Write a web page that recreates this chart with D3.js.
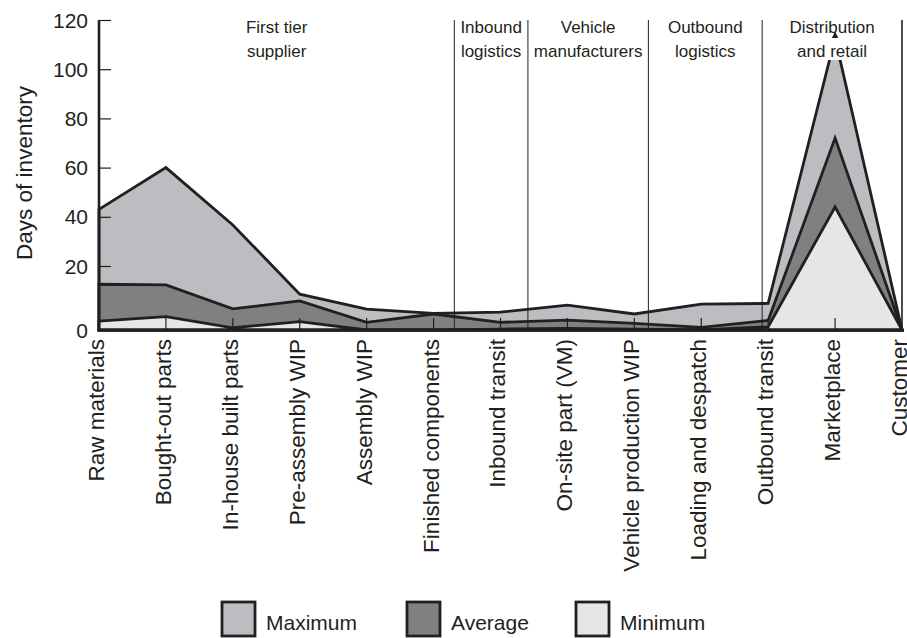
<!DOCTYPE html>
<html>
<head>
<meta charset="utf-8">
<script src="https://cdn.jsdelivr.net/npm/d3@7"></script>
<style>
  body { margin: 0; background: #fff; }
  svg text { font-family: "Liberation Sans", Arial, sans-serif; fill: #231f20; }
</style>
</head>
<body>
<svg id="chart" width="907" height="638"></svg>
<script>
// stages along the supply chain
var stages = ["Raw materials", "Bought-out parts", "In-house built parts", "Pre-assembly WIP",
  "Assembly WIP", "Finished components", "Inbound transit", "On-site part (VM)",
  "Vehicle production WIP", "Loading and despatch", "Outbound transit", "Marketplace", "Customer"];

// days of inventory
var maxDays = [43, 60, 36.7, 11.2, 6.5, 5.2, 5.6, 7.8, 5.0, 8.1, 8.3, 112.7, 0];
var avgDays = [14.3, 14.1, 6.6, 9.1, 2.4, 5.0, 2.4, 3.1, 2.1, 0.8, 3.0, 72, 0];
var minDays = [2.8, 4.2, 0.7, 2.6, 0, 0, 0.3, 0.5, 0.3, 0, 1.0, 44, 0];

var yTicks = [0, 20, 40, 60, 80, 100, 120];

// section boundaries, in stage index units
var sectionEdges = [0, 5.31, 6.41, 8.21, 9.91, 12];
var sectionNames = [["First tier", "supplier"], ["Inbound", "logistics"], ["Vehicle", "manufacturers"],
  ["Outbound", "logistics"], ["Distribution", "and retail"]];

var legendNames = ["Maximum", "Average", "Minimum"];
var fills = ["#bcbdc0", "#808082", "#e6e6e7"];
var ink = "#231f20";

var svg = d3.select("#chart");

var x = d3.scaleLinear().domain([0, stages.length - 1]).range([99, 902]);
// the printed axis gives 0-20 more room than the rest
var y = d3.scaleLinear().domain([0, 20, 120]).range([330, 266, 20]);

var series = [maxDays, avgDays, minDays];

var area = d3.area()
  .x(function(d, i) { return x(i); })
  .y0(y(0))
  .y1(function(d) { return y(d); });

series.forEach(function(s, k) {
  svg.append("path")
    .attr("d", area(s))
    .attr("fill", fills[k])
    .attr("stroke", ink)
    .attr("stroke-width", 2.8)
    .attr("stroke-linejoin", "miter")
    .attr("stroke-miterlimit", 20);
});

// label box hides the top of the peak, arrow shows it carries on
var peak = maxDays.indexOf(d3.max(maxDays));
svg.append("rect")
  .attr("x", x(peak) - 40).attr("y", 38)
  .attr("width", 80).attr("height", 22)
  .attr("fill", "#fff");
var ax = x(peak), ay = y(maxDays[peak]);
svg.append("path")
  .attr("d", "M" + (ax - 3.2) + "," + ay + "L" + ax + "," + (ay - 6.5) + "L" + (ax + 3.2) + "," + ay + "Z")
  .attr("fill", ink);

// section separators
svg.selectAll(".sep")
  .data(sectionEdges.slice(1))
  .enter().append("line")
  .attr("class", "sep")
  .attr("x1", function(d) { return x(d); })
  .attr("x2", function(d) { return x(d); })
  .attr("y1", y(120)).attr("y2", y(0))
  .attr("stroke", ink)
  .attr("stroke-width", function(d, i) { return i == 4 ? 1.6 : 1; });

sectionNames.forEach(function(lines, i) {
  var cx = x((sectionEdges[i] + sectionEdges[i + 1]) / 2);
  var t = svg.append("text")
    .attr("x", cx).attr("y", 33)
    .attr("text-anchor", "middle")
    .style("font-size", "17px");
  lines.forEach(function(l, j) {
    t.append("tspan").attr("x", cx).attr("dy", j == 0 ? 0 : 23.5).text(l);
  });
});

// x ticks point up from the baseline
svg.selectAll(".xt")
  .data(d3.range(1, stages.length - 1))
  .enter().append("line")
  .attr("x1", function(d) { return x(d); })
  .attr("x2", function(d) { return x(d); })
  .attr("y1", y(0)).attr("y2", y(0) - 12)
  .attr("stroke", ink)
  .attr("stroke-width", 1.2);

// y axis
var yAxis = svg.append("g")
  .attr("transform", "translate(" + x(0) + ",0)")
  .call(d3.axisRight(y).tickValues(yTicks).tickSize(12).tickFormat(""));
yAxis.select(".domain").remove();
yAxis.selectAll("line").attr("stroke", ink).attr("stroke-width", 1.2);
yAxis.selectAll(".tick").filter(function(d) { return d == 0; }).remove();

svg.selectAll(".yl")
  .data(yTicks)
  .enter().append("text")
  .attr("x", 88)
  .attr("y", function(d) { return y(d); })
  .attr("dy", "0.36em")
  .attr("text-anchor", "end")
  .style("font-size", "21px")
  .text(function(d) { return d; });

svg.append("line")
  .attr("x1", x(0)).attr("x2", x(0))
  .attr("y1", y(120)).attr("y2", y(0) + 1.5)
  .attr("stroke", ink).attr("stroke-width", 2.6);
svg.append("line")
  .attr("x1", x(0) - 1.3).attr("x2", x(stages.length - 1) + 2)
  .attr("y1", y(0)).attr("y2", y(0))
  .attr("stroke", ink).attr("stroke-width", 3);

svg.append("text")
  .attr("transform", "translate(24," + 173 + ") rotate(-90)")
  .attr("dy", "0.35em")
  .attr("text-anchor", "middle")
  .style("font-size", "22.5px")
  .text("Days of inventory");

svg.selectAll(".xl")
  .data(stages)
  .enter().append("text")
  .attr("transform", function(d, i) { return "translate(" + x(i) + ",339) rotate(-90)"; })
  .attr("dy", "0.22em")
  .attr("text-anchor", "end")
  .style("font-size", "22.5px")
  .text(function(d) { return d; });

// legend
var legendX = [222, 407, 576];
legendNames.forEach(function(n, i) {
  svg.append("rect")
    .attr("x", legendX[i]).attr("y", 602)
    .attr("width", 33).attr("height", 34)
    .attr("fill", fills[i])
    .attr("stroke", ink).attr("stroke-width", 2.8);
  svg.append("text")
    .attr("x", legendX[i] + 44).attr("y", 630)
    .style("font-size", "21px")
    .text(n);
});
</script>
</body>
</html>
